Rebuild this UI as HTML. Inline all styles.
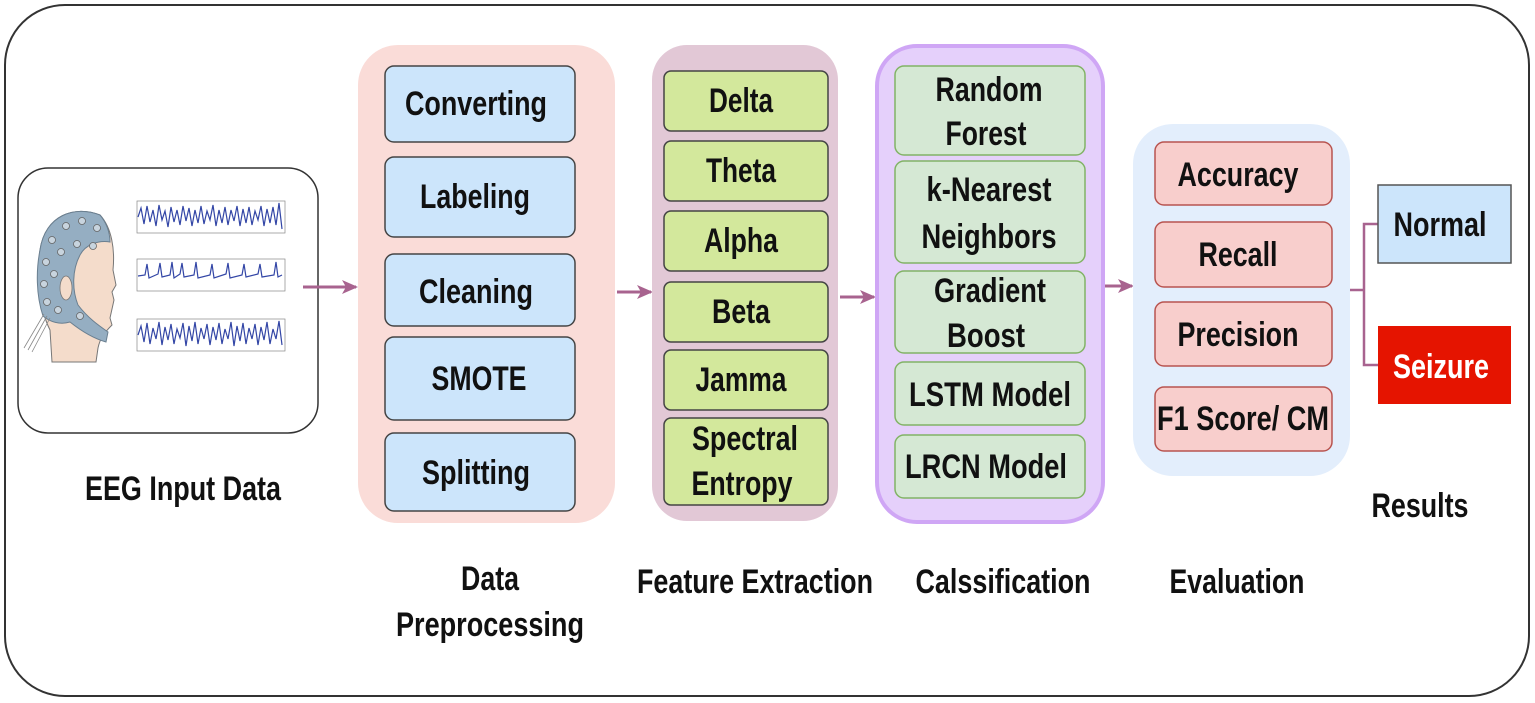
<!DOCTYPE html>
<html><head><meta charset="utf-8"><style>
html,body{margin:0;padding:0;background:#fff;width:1535px;height:703px;overflow:hidden}
svg text{font-family:"Liberation Sans Narrow","Liberation Sans",sans-serif;font-weight:bold;fill:#111;font-size:34px}
</style></head><body>
<svg width="1535" height="703" viewBox="0 0 1535 703" xmlns="http://www.w3.org/2000/svg">
<defs><marker id="ah" markerWidth="16" markerHeight="16" refX="14" refY="8" orient="auto" markerUnits="userSpaceOnUse"><path d="M0,1 L16,8 L0,15 L4,8 Z" fill="#a8638f"/></marker></defs>
<rect x="5" y="5" width="1524" height="691" rx="60" fill="#fff" stroke="#333" stroke-width="2"/>

<!-- EEG box -->
<rect x="18" y="168" width="300" height="265" rx="30" fill="#fff" stroke="#333" stroke-width="1.5"/>
<path d="M40,250 C45,215 75,205 100,215 C112,228 115,250 113,270 L116,285 L112,292 L114,300 L110,318 L112,325 C105,332 100,338 98,348 L96,362 L52,362 L50,330 C40,310 36,280 40,250 Z" fill="#f4dccb" stroke="#777" stroke-width="1"/>
<path d="M40,250 C45,215 75,205 100,215 C106,222 110,232 110,242 C98,240 85,245 80,255 C72,270 72,290 78,305 C88,318 98,325 108,332 L106,342 C92,338 80,330 70,322 C60,325 50,322 43,316 C36,295 36,270 40,250 Z" fill="#95aec2" stroke="#6a7f90" stroke-width="1"/>
<ellipse cx="66" cy="288" rx="6" ry="12" fill="#f4dccb" stroke="#777" stroke-width="0.8"/>
<g fill="#c8d4de" stroke="#666" stroke-width="0.8">
<circle cx="52" cy="240" r="3.5"/><circle cx="66" cy="226" r="3.5"/><circle cx="82" cy="221" r="3.5"/><circle cx="97" cy="228" r="3.5"/><circle cx="46" cy="262" r="3.5"/><circle cx="61" cy="252" r="3.5"/><circle cx="77" cy="244" r="3.5"/><circle cx="93" cy="246" r="3.5"/><circle cx="44" cy="284" r="3.5"/><circle cx="54" cy="274" r="3.5"/><circle cx="47" cy="302" r="3.5"/><circle cx="58" cy="310" r="3.5"/><circle cx="80" cy="316" r="3.5"/></g>
<path d="M44,314 L24,348 M47,316 L28,350 M50,318 L32,352" stroke="#888" stroke-width="0.8" fill="none"/>
<g stroke="#888" stroke-width="0.7" fill="none">
<rect x="137" y="201" width="148" height="32"/><rect x="137" y="259" width="148" height="32"/><rect x="137" y="319" width="148" height="32"/></g>
<g stroke="#3346a6" stroke-width="1.2" fill="none">
<polyline points="138,217 141,208 144,224 147,206 150,222 153,210 156,226 159,205 162,220 165,211 168,227 171,207 174,222 177,210 180,225 183,206 186,221 189,208 192,226 195,210 198,223 201,206 204,224 207,211 210,220 213,205 216,226 219,210 222,223 225,207 228,225 231,210 234,221 237,206 240,226 243,209 246,223 249,207 252,225 255,211 258,220 261,206 264,226 267,209 270,223 273,207 276,225 279,203 282,229"/>
<polyline points="138,276 145,275 147,264 149,278 158,274 160,263 162,277 170,275 172,262 174,278 180,274 182,263 184,277 194,275 196,262 198,278 210,275 212,264 214,278 226,274 228,263 230,278 242,275 244,264 246,277 258,274 260,264 262,277 274,275 276,262 278,277 282,275"/>
<polyline points="138,335 141,326 144,342 147,323 150,344 153,328 156,339 159,322 162,345 165,327 168,340 171,324 174,344 177,329 180,338 183,323 186,346 189,326 192,341 195,322 198,344 201,328 204,339 207,324 210,345 213,327 216,340 219,323 222,344 225,329 228,339 231,322 234,346 237,326 240,341 243,323 246,344 249,328 252,339 255,324 258,345 261,327 264,340 267,322 270,344 273,329 276,339 279,321 282,345"/>
</g>
<line x1="303" y1="287" x2="356" y2="287" stroke="#a8638f" stroke-width="3" marker-end="url(#ah)"/>

<!-- Preprocessing -->
<rect x="358" y="45" width="257" height="478" rx="40" fill="#fadcd8"/>
<g fill="#cce5fb" stroke="#444" stroke-width="1.5">
<rect x="385" y="66" width="190" height="76" rx="9"/><rect x="385" y="157" width="190" height="80" rx="9"/><rect x="385" y="254" width="190" height="72" rx="9"/><rect x="385" y="337" width="190" height="83" rx="9"/><rect x="385" y="433" width="190" height="78" rx="9"/></g>
<g text-anchor="middle" dominant-baseline="central">
<text x="476" y="104" textLength="142" lengthAdjust="spacingAndGlyphs">Converting</text>
<text x="475" y="197" textLength="110" lengthAdjust="spacingAndGlyphs">Labeling</text>
<text x="476" y="292" textLength="114" lengthAdjust="spacingAndGlyphs">Cleaning</text>
<text x="479" y="379" textLength="95" lengthAdjust="spacingAndGlyphs">SMOTE</text>
<text x="476" y="473" textLength="108" lengthAdjust="spacingAndGlyphs">Splitting</text>
</g>
<line x1="617" y1="292" x2="651" y2="292" stroke="#a8638f" stroke-width="3" marker-end="url(#ah)"/>

<!-- Feature Extraction -->
<rect x="652" y="45" width="186" height="476" rx="35" fill="#e2c8d6"/>
<g fill="#d3e89c" stroke="#444" stroke-width="1.5">
<rect x="664" y="71" width="164" height="60" rx="7"/><rect x="664" y="141" width="164" height="60" rx="7"/><rect x="664" y="211" width="164" height="60" rx="7"/><rect x="664" y="282" width="164" height="60" rx="7"/><rect x="664" y="350" width="164" height="60" rx="7"/><rect x="664" y="418" width="164" height="87" rx="7"/></g>
<g text-anchor="middle" dominant-baseline="central">
<text x="741" y="101" textLength="64" lengthAdjust="spacingAndGlyphs">Delta</text>
<text x="741" y="171" textLength="70" lengthAdjust="spacingAndGlyphs">Theta</text>
<text x="741" y="241" textLength="74" lengthAdjust="spacingAndGlyphs">Alpha</text>
<text x="741" y="312" textLength="58" lengthAdjust="spacingAndGlyphs">Beta</text>
<text x="741" y="380" textLength="91" lengthAdjust="spacingAndGlyphs">Jamma</text>
<text x="745" y="439" textLength="106" lengthAdjust="spacingAndGlyphs">Spectral</text>
<text x="742" y="484" textLength="101" lengthAdjust="spacingAndGlyphs">Entropy</text>
</g>
<line x1="840" y1="297" x2="874" y2="297" stroke="#a8638f" stroke-width="3" marker-end="url(#ah)"/>

<!-- Classification -->
<rect x="877" y="46" width="226" height="476" rx="40" fill="#e5d0fb" stroke="#cfa6f5" stroke-width="4"/>
<g fill="#d5e8d4" stroke="#82b366" stroke-width="1.5">
<rect x="895" y="66" width="190" height="89" rx="9"/><rect x="895" y="161" width="190" height="102" rx="9"/><rect x="895" y="271" width="190" height="82" rx="9"/><rect x="895" y="362" width="190" height="63" rx="9"/><rect x="895" y="435" width="190" height="63" rx="9"/></g>
<g text-anchor="middle" dominant-baseline="central">
<text x="989" y="90" textLength="107" lengthAdjust="spacingAndGlyphs">Random</text>
<text x="986" y="134" textLength="81" lengthAdjust="spacingAndGlyphs">Forest</text>
<text x="989" y="190" textLength="125" lengthAdjust="spacingAndGlyphs">k-Nearest</text>
<text x="989" y="237" textLength="135" lengthAdjust="spacingAndGlyphs">Neighbors</text>
<text x="990" y="291" textLength="112" lengthAdjust="spacingAndGlyphs">Gradient</text>
<text x="986" y="336" textLength="78" lengthAdjust="spacingAndGlyphs">Boost</text>
<text x="990" y="395" textLength="162" lengthAdjust="spacingAndGlyphs">LSTM Model</text>
<text x="986" y="467" textLength="162" lengthAdjust="spacingAndGlyphs">LRCN Model</text>
</g>
<line x1="1105" y1="286" x2="1132" y2="286" stroke="#a8638f" stroke-width="3" marker-end="url(#ah)"/>

<!-- Evaluation -->
<rect x="1133" y="124" width="217" height="352" rx="40" fill="#e3eefc"/>
<g fill="#f8cecc" stroke="#b85450" stroke-width="1.5">
<rect x="1155" y="142" width="177" height="63" rx="9"/><rect x="1155" y="222" width="177" height="65" rx="9"/><rect x="1155" y="302" width="177" height="64" rx="9"/><rect x="1155" y="387" width="177" height="64" rx="9"/></g>
<g text-anchor="middle" dominant-baseline="central">
<text x="1238" y="175" textLength="121" lengthAdjust="spacingAndGlyphs">Accuracy</text>
<text x="1238" y="255" textLength="79" lengthAdjust="spacingAndGlyphs">Recall</text>
<text x="1238" y="335" textLength="121" lengthAdjust="spacingAndGlyphs">Precision</text>
<text x="1243" y="419" textLength="172" lengthAdjust="spacingAndGlyphs">F1 Score/ CM</text>
</g>

<!-- Results -->
<path d="M1350,290 L1364,290 M1378,224 L1364,224 L1364,365 L1378,365" stroke="#a8638f" stroke-width="2.5" fill="none"/>
<rect x="1378" y="185" width="133" height="78" fill="#cce5fb" stroke="#555" stroke-width="1.5"/>
<rect x="1378" y="326" width="133" height="78" fill="#e51400"/>
<g text-anchor="middle" dominant-baseline="central">
<text x="1440" y="225" textLength="93" lengthAdjust="spacingAndGlyphs">Normal</text>
<text x="1441" y="367" textLength="96" lengthAdjust="spacingAndGlyphs" style="fill:#fff">Seizure</text>
</g>

<!-- Labels -->
<g text-anchor="middle" dominant-baseline="central" style="font-size:32px">
<text x="183" y="489" textLength="196" lengthAdjust="spacingAndGlyphs">EEG Input Data</text>
<text x="490" y="579" textLength="58" lengthAdjust="spacingAndGlyphs">Data</text>
<text x="490" y="625" textLength="188" lengthAdjust="spacingAndGlyphs">Preprocessing</text>
<text x="755" y="582" textLength="236" lengthAdjust="spacingAndGlyphs">Feature Extraction</text>
<text x="1003" y="582" textLength="175" lengthAdjust="spacingAndGlyphs">Calssification</text>
<text x="1237" y="582" textLength="135" lengthAdjust="spacingAndGlyphs">Evaluation</text>
<text x="1420" y="506" textLength="97" lengthAdjust="spacingAndGlyphs">Results</text>
</g>
</svg>
</body></html>
